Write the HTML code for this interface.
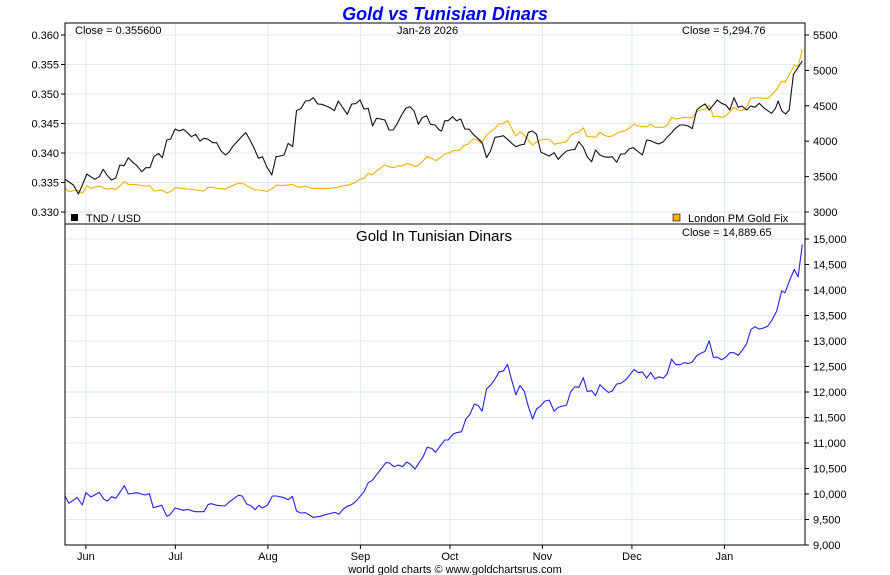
<!DOCTYPE html>
<html><head><meta charset="utf-8"><style>
body{margin:0;background:#fff;}
svg{display:block;font-family:"Liberation Sans",Arial,sans-serif;}
</style></head><body>
<svg id="chart" width="890" height="575" viewBox="0 0 890 575" xmlns="http://www.w3.org/2000/svg">
<rect width="890" height="575" fill="#fff"/>
<g id="grid"></g>
<g id="series"></g>
<g id="axes"></g>
<text x="445" y="20" text-anchor="middle" font-size="18" font-weight="bold" font-style="italic" fill="#0000ee">Gold vs Tunisian Dinars</text>
<text x="75" y="34" font-size="11">Close = 0.355600</text>
<text x="397" y="34" font-size="11">Jan-28  2026</text>
<text x="682" y="34" font-size="11">Close = 5,294.76</text>
<rect x="71" y="214" width="7" height="7" fill="#000"/>
<text x="86" y="222" font-size="11">TND / USD</text>
<rect x="673" y="214" width="7" height="7" fill="#f5b000" stroke="#000" stroke-width="0.6"/>
<text x="688" y="222" font-size="11">London PM Gold Fix</text>
<text x="434" y="241" text-anchor="middle" font-size="15">Gold In Tunisian Dinars</text>
<text x="682" y="236" font-size="11">Close = 14,889.65</text>
<text x="455" y="573" text-anchor="middle" font-size="11">world gold charts © www.goldchartsrus.com</text>
</svg>
<script>
// ---- data ----
const monthLabels=["Jun","Jul","Aug","Sep","Oct","Nov","Dec","Jan"];
const monthDays=[0,30,61,92,122,153,183,214];
const tndTicks=[0.330,0.335,0.340,0.345,0.350,0.355,0.360];
const goldTicks=[3000,3500,4000,4500,5000,5500];
const tndGoldTicks=[9000,9500,10000,10500,11000,11500,12000,12500,13000,13500,14000,14500,15000];

const tndDays=[-7,-4.2,-2.5,-1.4,0.3,1.6,3,4.5,5.8,7.3,8.6,10,11.4,12.8,14.2,15.7,17,18.7,20.1,21.5,22.8,24.3,25.6,27.1,28.4,29.9,31.2,32.7,34,35.4,36.8,38.2,39.6,41,42.5,43.8,45.3,46.8,48.1,49.4,50.9,52.2,53.6,55,56.4,57.8,59.2,60.6,62.3,63.7,65.1,66.4,67.8,69.3,70.6,72.1,73.6,74.9,76.2,77.7,79,80.5,81.8,83.3,84.6,86,87.6,89.1,90.4,91.9,93.2,94.6,96.1,97.4,98.8,100.2,101.6,103,104.4,105.8,107.2,108.6,110,111.4,112.7,114.2,115.5,117,118.4,119.2,120.3,121.4,122.9,124.2,125.6,127,128.5,129.8,131.3,132.8,134.3,135.6,137.1,138.5,139.9,141.3,142.7,144.1,145.5,146.9,148.3,149.7,151,152.5,153.8,155.3,156.9,158.3,159.6,161.1,162.4,163.9,165.2,166.7,168,169.5,170.8,172.3,173.6,175.1,176.4,177.9,179.2,180.6,182,183.4,184.8,186.5,187.9,189.3,190.7,192,193.5,194.8,196.3,197.6,199.1,200.4,201.9,203.2,204.7,206,207.5,208.9,210.3,211.6,213,214.5,215.8,217.2,218.6,219.9,221.4,222.8,224.2,225.7,227,228.5,229.8,231.1,232,233.2,234.5,235.7,237.1,238.5,240.1];
const tndValues=[0.33554,0.33458,0.33305,0.33429,0.33644,0.33599,0.33554,0.33599,0.33723,0.33610,0.33542,0.33576,0.33797,0.33785,0.33921,0.33842,0.33791,0.33683,0.33751,0.33751,0.33938,0.33994,0.33921,0.34220,0.34237,0.34407,0.34373,0.34402,0.34344,0.34276,0.34317,0.34203,0.34249,0.34232,0.34175,0.34175,0.34034,0.33966,0.34022,0.34124,0.34203,0.34276,0.34344,0.34220,0.34080,0.33910,0.33938,0.33768,0.33627,0.33938,0.33949,0.33966,0.34164,0.34107,0.34717,0.34758,0.34881,0.34887,0.34937,0.34831,0.34826,0.34797,0.34768,0.34717,0.34881,0.34775,0.34656,0.34831,0.34836,0.34898,0.34746,0.34758,0.34458,0.34588,0.34576,0.34559,0.34390,0.34390,0.34503,0.34644,0.34758,0.34785,0.34712,0.34486,0.34599,0.34632,0.34486,0.34475,0.34390,0.34373,0.34548,0.34548,0.34615,0.34548,0.34576,0.34407,0.34402,0.34317,0.34249,0.34175,0.33921,0.34034,0.34266,0.34276,0.34293,0.34232,0.34164,0.34107,0.34136,0.34148,0.34351,0.34373,0.34317,0.34012,0.33983,0.33949,0.34005,0.33893,0.33966,0.34034,0.34051,0.34063,0.34192,0.34097,0.33938,0.33853,0.34051,0.33966,0.33938,0.33927,0.33938,0.33842,0.33983,0.33983,0.34068,0.34090,0.34034,0.33966,0.34220,0.34209,0.34175,0.34153,0.34192,0.34266,0.34344,0.34419,0.34475,0.34475,0.34458,0.34412,0.34729,0.34785,0.34831,0.34729,0.34814,0.34898,0.34842,0.34814,0.34729,0.34937,0.34775,0.34797,0.34729,0.34797,0.34775,0.34842,0.34775,0.34717,0.34673,0.34758,0.34881,0.34717,0.34661,0.34729,0.35333,0.35435,0.35560];

const goldDays=[-7,-5.7,-2.9,-1.2,0.3,1.6,4.5,7,8.6,10.1,12.9,14.2,17,19.8,21.5,22.8,25.4,27.1,28.4,29.9,32.7,34.1,36.6,39.4,41,42.5,43.8,46.6,48.3,51.1,52.4,53.9,56.7,58,60.8,62.5,63.9,66.2,69.2,70.6,72,73.6,75.7,78.5,81.2,84,86.3,87.6,90.2,91.9,93.2,94.6,96,97.4,100.2,101.6,103,104.7,106.1,107.5,108.8,110.3,111.6,114.4,115.9,117.2,118.7,120.3,122,123.1,125.4,126.5,128.1,129.8,131.3,132.6,134.3,135.6,137.1,138.5,139.9,141.3,142.7,144.1,145.5,146.9,148.3,149.7,151,152.5,153.8,155.3,156.9,158.3,159.6,161.1,162.4,163.9,165.2,166.7,168,169.5,170.8,172.3,173.6,175.1,176.4,177.9,179.2,180.6,182,183.7,185.1,186.5,187.9,189.3,190.7,192,193.5,194.8,196.3,197.6,199.1,200.4,201.9,203.2,204.7,206,207.5,208.9,210.3,211.6,213,214.5,215.8,217.2,218.6,219.9,221.4,222.8,224.2,225.7,227,228.5,229.8,231.5,233.2,234.3,236,237.4,238.7,240.1];
const goldValues=[3334,3287,3311,3264,3372,3334,3367,3320,3334,3320,3428,3391,3386,3367,3372,3297,3311,3273,3287,3344,3329,3325,3311,3297,3349,3349,3334,3320,3358,3405,3405,3372,3311,3311,3292,3334,3381,3372,3391,3358,3349,3367,3334,3329,3334,3344,3372,3377,3414,3462,3476,3546,3522,3579,3664,3640,3626,3654,3650,3687,3673,3640,3664,3781,3758,3725,3767,3819,3838,3866,3875,3932,3960,4031,4017,3970,4087,4134,4182,4243,4252,4289,4182,4073,4134,4087,4017,3946,3984,4017,4027,4027,3956,3970,3979,3993,4077,4120,4125,4190,4064,4064,4055,4125,4087,4064,4073,4111,4134,4144,4182,4238,4214,4205,4205,4238,4196,4196,4196,4228,4337,4313,4323,4337,4332,4332,4416,4440,4454,4511,4346,4356,4337,4356,4416,4478,4440,4430,4478,4605,4614,4614,4605,4605,4652,4732,4850,4831,4958,5076,5052,5295];

const tgDays=[-7,-5.7,-2.9,-1.2,0,1.7,4.5,6.1,7.2,8.6,10,12.9,14.2,17,19.8,21.3,22.6,25.4,27.1,28.2,29.9,32.7,34.1,36.6,39.6,41,42.1,43.8,46.6,48.3,51.1,52.4,53.9,55.3,56.7,58,59.1,60.8,62.5,63.9,66.2,67.8,69.2,70.6,72,73.6,76.2,78.5,80.7,83.5,84.8,86.3,87.6,89.1,90.7,93.2,94.6,96,97.7,100.5,101.6,103.3,104.7,106.1,107.5,108.8,110.3,113.1,114.4,115.9,117.2,118.7,120.3,121.4,123.1,124.2,125.9,127.3,128.7,130.2,131.5,132.8,134.3,135.6,137.1,138.5,139.9,141.3,142.7,144.1,145.5,146.9,148.3,149.7,151,152.5,153.8,155.3,156.9,158.3,159.6,161.1,162.4,163.9,165.2,166.7,168,169.5,170.8,172.3,173.6,175.1,176.4,177.9,179.2,180.6,182,183.7,185.1,186.5,187.9,189.3,190.7,192,193.5,194.8,196.3,197.6,199.1,200.4,201.9,203.2,204.7,206,207.5,208.9,210.3,211.6,213,214.5,215.8,217.2,218.6,219.9,221.4,222.9,224.2,225.7,227,228.5,229.8,231.5,233.2,234.3,236,237.4,238.7,240.1];
const tgValues=[9960,9817,9934,9784,10026,9941,10032,9895,9862,9947,9915,10163,10000,10026,9980,10006,9732,9778,9562,9595,9725,9680,9699,9653,9653,9797,9810,9778,9764,9856,9974,9960,9804,9771,9692,9778,9725,9778,9960,9960,9934,9888,9954,9666,9627,9634,9542,9562,9601,9640,9601,9706,9758,9791,9869,10046,10222,10268,10398,10614,10614,10535,10568,10535,10627,10581,10490,10744,10915,10895,10817,10940,11058,11058,11176,11202,11221,11464,11561,11764,11731,11626,12064,12130,12254,12397,12410,12541,12234,11946,12130,12018,11711,11470,11666,11731,11822,11842,11626,11698,11724,11744,11999,12103,12090,12280,12012,12025,11927,12143,12064,11993,12018,12156,12169,12221,12312,12443,12384,12390,12273,12384,12254,12299,12273,12352,12646,12541,12534,12574,12561,12587,12711,12757,12796,13004,12678,12685,12632,12685,12770,12770,12718,12809,12940,13228,13280,13234,13253,13292,13397,13586,13985,13946,14214,14403,14259,14890];

// ---- scales ----
const L=65,R=805,T=23,MID=224,B=545;
const dayMin=-7,dayMax=241;
const xS=d=>L+(d-dayMin)/(dayMax-dayMin)*(R-L);
const yTnd=v=>212-(v-0.330)/0.030*(212-35);
const yGold=v=>212-(v-3000)/2500*(212-35);
const yTg=v=>545-(v-9000)/6000*(545-239);

const NS="http://www.w3.org/2000/svg";
function mk(tag,attrs,parent){const e=document.createElementNS(NS,tag);for(const k in attrs)e.setAttribute(k,attrs[k]);parent.appendChild(e);return e;}
const grid=document.getElementById('grid'),ser=document.getElementById('series'),ax=document.getElementById('axes');
const gc="#ddeaf6";

// grid
monthDays.forEach((d,i)=>{
  const x=xS(d);
  const g1=mk('line',{x1:x,x2:x,y1:T,y2:B,stroke:gc,'stroke-width':1},grid);
  
  
  const tk=mk('line',{x1:x,x2:x,y1:B,y2:B+4,stroke:'#000'},ax);
  
  
  const t=mk('text',{x:x,y:B+15,'text-anchor':'middle','font-size':11},ax);
  t.textContent=monthLabels[i];
  
  
});
tndTicks.forEach(v=>{
  const y=yTnd(v);
  const g=mk('line',{x1:L,x2:R,y1:y,y2:y,stroke:gc},grid);
  
  
  mk('line',{x1:L-4,x2:L,y1:y,y2:y,stroke:'#000'},ax);
  const t=mk('text',{x:L-6,y:y+4,'text-anchor':'end','font-size':11},ax);
  t.textContent=v.toFixed(3);
  
  
});
goldTicks.forEach(v=>{
  const y=yGold(v);
  mk('line',{x1:R,x2:R+4,y1:y,y2:y,stroke:'#000'},ax);
  const t=mk('text',{x:R+8,y:y+4,'font-size':11},ax);
  t.textContent=String(v);
  
  
});
tndGoldTicks.forEach(v=>{
  const y=yTg(v);
  const g=mk('line',{x1:L,x2:R,y1:y,y2:y,stroke:gc},grid);
  
  
  mk('line',{x1:R,x2:R+4,y1:y,y2:y,stroke:'#000'},ax);
  const t=mk('text',{x:R+8,y:y+4,'font-size':11},ax);
  t.textContent=v.toLocaleString('en-US');
  
  
});

// frames
const fr=mk('rect',{x:L,y:T,width:R-L,height:B-T,fill:'none',stroke:'#000','stroke-width':1},ax);


const dv=mk('line',{x1:L,x2:R,y1:MID,y2:MID,stroke:'#000'},ax);



// series
function line(days,vals,ys,color,name){
  const d=days.map((dd,i)=>(i?'L':'M')+xS(dd).toFixed(1)+','+ys(vals[i]).toFixed(1)).join('');
  const p=mk('path',{d:d,fill:'none',stroke:color,'stroke-width':1.1,'stroke-linejoin':'round'},ser);
  
  
}
line(goldDays,goldValues,yGold,'#f5b000','gold-usd-line');
line(tndDays,tndValues,yTnd,'#111','tnd-usd-line');
line(tgDays,tgValues,yTg,'#2020ff','gold-tnd-line');
</script>
</body></html>
